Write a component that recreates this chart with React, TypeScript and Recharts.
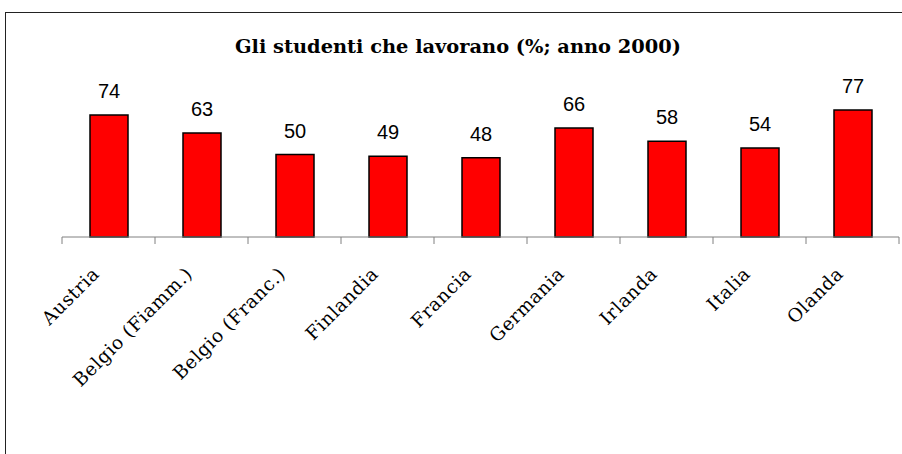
import React from 'react';
import { BarChart, Bar, XAxis, YAxis, LabelList } from 'recharts';

const categories = ['Austria', 'Belgio (Fiamm.)', 'Belgio (Franc.)', 'Finlandia', 'Francia', 'Germania', 'Irlanda', 'Italia', 'Olanda'];
const values = [74, 63, 50, 49, 48, 66, 58, 54, 77];
const title = 'Gli studenti che lavorano (%; anno 2000)';

const data = categories.map((name, i) => ({ name, value: values[i] }));

const W = 902;
const H = 454;
const margin = { top: 72, right: 3, left: 62, bottom: 57 };
const plotW = W - margin.left - margin.right;

const CategoryTick = (props: any) => {
  const { x, y, payload, index, visibleTicksCount } = props;
  const off = payload && typeof payload.offset === 'number' && payload.offset > 0 ? payload.offset : plotW / categories.length / 2;
  const count = visibleTicksCount ?? categories.length;
  const ax = x - 8;
  const ay = y + 38;
  return (
    <g>
      <line x1={x - off} y1={y} x2={x - off} y2={y + 7} stroke="#808080" strokeWidth={1} />
      {index === count - 1 && (
        <line x1={x + off} y1={y} x2={x + off} y2={y + 7} stroke="#808080" strokeWidth={1} />
      )}
      <text
        x={ax}
        y={ay}
        transform={`rotate(-45, ${ax}, ${ay})`}
        textAnchor="end"
        fontFamily="'DejaVu Serif', serif"
        fontSize={18.5}
        letterSpacing={0.6}
        fill="#000"
      >
        {payload.value}
      </text>
    </g>
  );
};

export default function App() {
  return (
    <div style={{ position: 'absolute', left: 0, top: 0, width: W, height: H, overflow: 'hidden', background: '#fff' }}>
      <div style={{ position: 'absolute', left: 5, top: 12, width: 920, height: 480, border: '1px solid #222', boxSizing: 'border-box' }} />
      <div style={{ position: 'absolute', left: 0, top: 0 }}>
        <BarChart width={W} height={H} data={data} margin={margin} barCategoryGap={0}>
          <text x={458} y={53} textAnchor="middle" fontFamily="'DejaVu Serif', serif" fontWeight="bold" fontSize={19.4} fill="#000">
            {title}
          </text>
          <YAxis hide domain={[0, 100]} />
          <XAxis
            dataKey="name"
            interval={0}
            height={160}
            tickSize={0}
            tickMargin={0}
            tickLine={false}
            axisLine={{ stroke: '#808080', strokeWidth: 1 }}
            tick={<CategoryTick />}
          />
          <Bar dataKey="value" fill="#FF0000" stroke="#000" strokeWidth={1.5} barSize={38} isAnimationActive={false}>
            <LabelList dataKey="value" position="top" offset={17} fontFamily="'Liberation Sans', Arial, sans-serif" fontSize={20} fill="#000" />
          </Bar>
        </BarChart>
      </div>
    </div>
  );
}
